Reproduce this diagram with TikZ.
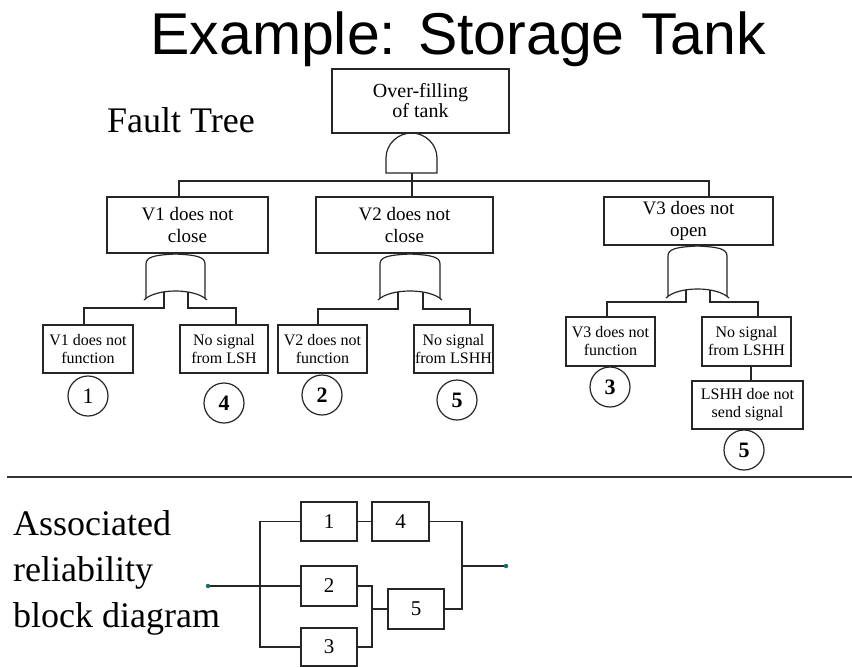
\documentclass[tikz,border=0pt]{standalone}
\usepackage{fontspec}
\setmainfont{Liberation Serif}
\newfontfamily\titlefont{Liberation Sans}
\definecolor{dotteal}{RGB}{20,110,110}
\newcommand\orgate[4]{% L R T B
  \draw[ln] (#1,#4) -- (#1,{#3+9}) .. controls (#1,{#3+2}) and ({#1+8},#3) .. ({(#1+#2)/2},{#3-1})
    .. controls ({#2-8},#3) and (#2,{#3+2}) .. (#2,{#3+9}) -- (#2,#4);
  \draw[ln] ({#1-2},{#4+2}) .. controls ({#1+10},{#4-10}) and ({#2-10},{#4-10}) .. ({#2+2},{#4+2});
}
\begin{document}
\begin{tikzpicture}[x=1pt,y=-1pt,
  ln/.style={line width=1.2pt, black!85},
  box/.style={draw=black!85, line width=1.2pt, inner sep=0pt, align=center},
  topfont/.style={font=\fontsize{20}{20}\selectfont},
  midfont/.style={font=\fontsize{19}{22}\selectfont},
  lowfont/.style={font=\fontsize{16}{18}\selectfont},
  num/.style={draw=black!85, line width=1.2pt, circle, minimum size=40pt, inner sep=0pt, font=\fontsize{22}{22}\selectfont\bfseries},
  rbd/.style={draw=black!85, line width=1.2pt, inner sep=0pt, font=\fontsize{21}{21}\selectfont},
  big/.style={anchor=base west, inner sep=0pt, font=\fontsize{36}{40}\selectfont},
  tdot/.style={circle, fill=dotteal, inner sep=0pt, minimum size=4.5pt}]
\useasboundingbox (0,0) rectangle (852,667);
\fill[white] (0,0) rectangle (852,667);

% titles
\node[anchor=base east, inner sep=0pt, font=\titlefont\fontsize{59}{60}\selectfont] (title) at (766,54) {Example: Storage Tank};
\node[big] (ft) at (107,132) {Fault Tree};

% fault tree boxes
\node[box, topfont, minimum width=177pt, minimum height=64pt] (top) at (420.5,101) {Over-filling\\of tank};
\node[box, midfont, minimum width=161pt, minimum height=56pt] (v1) at (187.5,225) {V1 does not\\close};
\node[box, midfont, minimum width=177pt, minimum height=56pt] (v2) at (404.5,225) {V2 does not\\close};
\node[box, midfont, minimum width=169pt, minimum height=48pt] (v3) at (688.5,221) {V3 does not\\open};

\node[box, lowfont, minimum width=90pt, minimum height=48pt] (fa) at (88,349) {V1 does not\\function};
\node[box, lowfont, minimum width=88pt, minimum height=48pt] (fb) at (224,349) {No signal\\from LSH};
\node[box, lowfont, minimum width=89pt, minimum height=48pt] (fc) at (322.5,349) {V2 does not\\function};
\node[box, lowfont, minimum width=79pt, minimum height=48pt] (fd) at (453.5,349) {No signal\\from LSHH};
\node[box, lowfont, minimum width=89pt, minimum height=49pt] (fe) at (610.5,341.5) {V3 does not\\function};
\node[box, lowfont, minimum width=89pt, minimum height=49pt] (ff) at (746.5,341.5) {No signal\\from LSHH};
\node[box, lowfont, minimum width=111pt, minimum height=48pt] (fg) at (747.5,405) {LSHH doe not\\send signal};

% numbered circles
\node[num, font=\fontsize{22}{22}\selectfont] (c1) at (88,396) {1};
\node[num] (c4) at (224,403) {4};
\node[num] (c2) at (322,395) {2};
\node[num] (c5) at (457,400) {5};
\node[num] (c3) at (610,387) {3};
\node[num] (c5b) at (744,450) {5};

% AND gate
\draw[ln] (386,173) -- (386,158) .. controls (386,144) and (398,133) .. (411.5,133)
  .. controls (425,133) and (437,144) .. (437,158) -- (437,173) -- cycle;
\coordinate (ga) at (412,173);
\coordinate (t1) at (179,181);
\coordinate (t3) at (709,181);
\draw[ln] (ga) -- (v2.north -| ga);
\draw[ln] (v1.north -| t1) -- (t1) -- (t3) -- (v3.north -| t3);

% OR gates
\orgate{146}{205}{255}{298}
\orgate{380}{440}{255}{298}
\orgate{668}{727}{247}{296}

\coordinate (g1l) at (164,292); \coordinate (g1r) at (188,292);
\coordinate (k1) at (84,308);   \coordinate (k2) at (236,308);
\draw[ln] (g1l) |- (k1) -- (k1 |- fa.north);
\draw[ln] (g1r) |- (k2) -- (k2 |- fb.north);

\coordinate (g2l) at (398,292); \coordinate (g2r) at (423,292);
\coordinate (k3) at (318,309);  \coordinate (k4) at (470,309);
\draw[ln] (g2l) |- (k3) -- (k3 |- fc.north);
\draw[ln] (g2r) |- (k4) -- (k4 |- fd.north);

\coordinate (g3l) at (686,290); \coordinate (g3r) at (710,290);
\coordinate (k5) at (607,302);  \coordinate (k6) at (758,302);
\draw[ln] (g3l) |- (k5) -- (k5 |- fe.north);
\draw[ln] (g3r) |- (k6) -- (k6 |- ff.north);
\coordinate (k7) at (751,366);
\draw[ln] (ff.south -| k7) -- (fg.north -| k7);

% separator
\draw[line width=2pt, black!80] (7,477) -- (852,477);

% RBD label
\node[big] (a1) at (13,535) {Associated};
\node[big] (a2) at (13,581) {reliability};
\node[big] (a3) at (13,627) {block diagram};

% RBD blocks
\node[rbd, minimum width=56pt, minimum height=39pt] (b1) at (329,521.5) {1};
\node[rbd, minimum width=57pt, minimum height=39pt] (b4) at (400.5,521.5) {4};
\node[rbd, minimum width=56pt, minimum height=40pt] (b2) at (329,586) {2};
\node[rbd, minimum width=56pt, minimum height=40pt] (b5) at (416,609) {5};
\node[rbd, minimum width=56pt, minimum height=38pt] (b3) at (329,647) {3};
\node[tdot] (in) at (208,586) {};
\node[tdot] (out) at (506,566) {};

\coordinate (busT) at (260,521.5);
\coordinate (busB) at (260,647);
\coordinate (rj) at (462,521.5);
\coordinate (rb) at (462,609);
\coordinate (ro) at (462,566);
\coordinate (mj) at (372,586);
\coordinate (mb) at (372,647);
\coordinate (mm) at (372,609);

\draw[ln] (in) -- (b2.west);
\draw[ln] (b1.west) -- (busT) -- (busB) -- (b3.west);
\draw[ln] (b1.east) -- (b4.west);
\draw[ln] (b4.east) -- (rj) -- (rb) -- (b5.east);
\draw[ln] (ro) -- (out);
\draw[ln] (b2.east) -- (mj) -- (mb) -- (b3.east);
\draw[ln] (mm) -- (b5.west);
\end{tikzpicture}
\end{document}
